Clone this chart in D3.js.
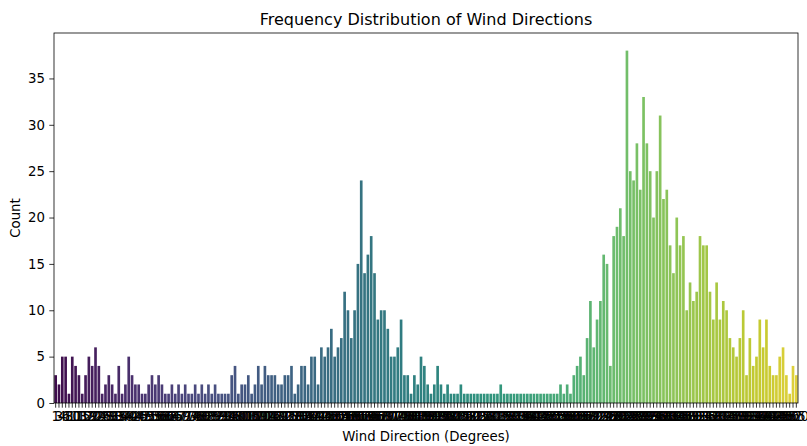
<!DOCTYPE html>
<html>
<head>
<meta charset="utf-8">
<script src="https://cdn.jsdelivr.net/npm/d3@7"></script>
<style>
  body { margin: 0; background: #fff; }
  text { font-family: "DejaVu Sans", sans-serif; fill: #000; }
</style>
</head>
<body>
<div id="chart"></div>
<script>
// wind direction categories (degrees), in plotted order
const directions = [
  1,3,4,6,8,10,11,13,15,17,19,20,22,24,26,28,29,31,33,35,
  37,38,40,42,44,46,47,49,51,53,55,56,58,60,62,64,65,67,69,71,
  73,74,76,78,80,82,83,85,87,89,91,92,94,96,98,100,101,103,105,107,
  109,110,112,114,116,118,119,121,123,125,127,128,130,132,134,136,137,139,141,143,
  145,146,148,150,152,154,156,
  157,158,160,161,162,163,164,165,166,167,168,169,170,171,172,174,175,176,
  178,180,181,183,185,186,188,190,191,193,195,196,198,200,201,203,205,206,208,210,
  211,213,215,216,218,220,221,223,225,226,228,230,231,233,235,236,238,240,241,243,
  245,246,248,250,251,253,255,256,258,260,261,263,
  265,266,268,269,270,272,273,274,276,277,278,280,281,282,284,285,286,288,289,290,
  292,293,294,296,297,298,300,301,302,304,305,306,308,309,310,312,313,314,316,317,
  318,320,321,322,324,325,326,328,329,330,332,333,334,336,337,338,340,341,342,344,
  345,346,348,350,352,355,360
];

// count of observations per direction
const counts = [
  3,2,5,5,1,5,4,3,1,3,5,4,6,4,1,2,3,2,1,4,
  1,2,5,3,2,2,1,1,2,3,2,3,2,1,1,2,1,2,1,2,
  1,1,2,1,2,1,2,1,2,1,1,1,1,3,4,1,2,2,3,1,
  2,4,2,4,3,3,3,2,2,3,3,4,1,2,4,4,2,5,5,2,
  6,5,6,8,5,6,7,12,10,7,10,15,24,14,16,18,14,9,10,10,
  8,5,5,6,9,3,3,1,3,2,5,4,2,1,2,4,2,1,2,1,
  1,1,2,1,1,1,1,1,1,1,1,1,1,1,2,1,1,1,1,1,
  1,1,1,1,1,1,1,1,1,1,1,1,2,1,2,1,3,4,5,3,
  7,11,6,9,11,16,15,4,18,19,21,18,38,25,24,28,23,33,28,25,
  20,25,31,22,23,17,14,20,17,18,10,13,11,12,18,17,17,12,9,13,
  9,11,10,7,6,5,7,10,3,7,4,5,9,6,9,4,3,3,5,6,
  3,1,4,3
];

const yTicks = [0, 5, 10, 15, 20, 25, 30, 35];

const data = directions.map((d, i) => ({dir: d, count: counts[i]}));

const W = 807, H = 446;
const margin = {top: 33, left: 54, bottom: 43, right: 9};
const width = W - margin.left - margin.right;
const height = H - margin.top - margin.bottom;

const svg = d3.select("#chart")
  .append("svg")
  .attr("width", W)
  .attr("height", H)
  .append("g")
  .attr("transform", `translate(${margin.left}, ${margin.top})`);

const xScale = d3.scaleBand()
  .domain(directions)
  .range([0, width])
  .paddingInner(0.2)
  .paddingOuter(0.1);

const yScale = d3.scaleLinear()
  .domain([0, d3.max(counts) * 1.05])
  .range([height, 0]);

// seaborn-style viridis palette, desaturated a bit
const n = directions.length;
const color = (i) => {
  const c = d3.hsl(d3.interpolateViridis((i + 1) / (n + 1)));
  c.s *= 0.75;
  return c.formatHex();
};

svg.selectAll("rect.bar")
  .data(data)
  .enter()
  .append("rect")
  .attr("class", "bar")
  .attr("x", d => xScale(d.dir))
  .attr("width", xScale.bandwidth())
  .attr("y", d => yScale(d.count))
  .attr("height", d => height - yScale(d.count))
  .attr("fill", (d, i) => color(i));

const xAxis = d3.axisBottom(xScale)
  .tickSizeOuter(0)
  .tickSize(4.7)
  .tickPadding(4);

const yAxis = d3.axisLeft(yScale)
  .tickValues(yTicks)
  .tickSizeOuter(0)
  .tickSize(4.7)
  .tickPadding(4.4);

const gx = svg.append("g")
  .attr("class", "x-axis")
  .attr("transform", `translate(0, ${height})`)
  .call(xAxis);
gx.select(".domain").remove();
gx.selectAll("line").attr("stroke", "#000").attr("stroke-width", 0.8);
gx.selectAll("text")
  .style("font-size", "13.3px")
  .style("font-family", "DejaVu Sans")
  .attr("fill", "#000");

const gy = svg.append("g")
  .attr("class", "y-axis")
  .call(yAxis);
gy.select(".domain").remove();
gy.selectAll("line").attr("stroke", "#000").attr("stroke-width", 0.8);
gy.selectAll("text")
  .style("font-size", "13.3px")
  .style("font-family", "DejaVu Sans")
  .attr("fill", "#000");

// frame
svg.append("rect")
  .attr("x", 0)
  .attr("y", 0)
  .attr("width", width)
  .attr("height", height)
  .attr("fill", "none")
  .attr("stroke", "#000")
  .attr("stroke-width", 0.8);

// title and labels
svg.append("text")
  .attr("x", width / 2)
  .attr("y", -8)
  .attr("text-anchor", "middle")
  .style("font-size", "16px")
  .text("Frequency Distribution of Wind Directions");

svg.append("text")
  .attr("x", width / 2)
  .attr("y", height + 38)
  .attr("text-anchor", "middle")
  .style("font-size", "13.3px")
  .text("Wind Direction (Degrees)");

svg.append("text")
  .attr("transform", `translate(${-34}, ${height / 2}) rotate(-90)`)
  .attr("text-anchor", "middle")
  .style("font-size", "13.3px")
  .text("Count");
</script>
</body>
</html>
